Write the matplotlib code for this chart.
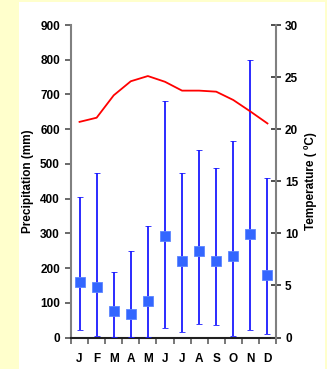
import matplotlib
matplotlib.use("Agg")
import matplotlib.pyplot as plt
from matplotlib.patches import Rectangle
import numpy as np

months = ["J", "F", "M", "A", "M", "J", "J", "A", "S", "O", "N", "D"]
precip = [159, 146, 77, 69, 105, 291, 219, 250, 221, 236, 298, 180]
precip_low = [22, 5, 1, 1, 1, 26, 15, 39, 36, 3, 21, 11]
precip_high = [405, 473, 188, 249, 321, 680, 475, 540, 488, 567, 800, 458]
temp = [20.7, 21.1, 23.25, 24.6, 25.1, 24.55, 23.7, 23.7, 23.6, 22.8, 21.7, 20.55]

plt.rcParams['font.family'] = ['Liberation Sans', 'DejaVu Sans']
plt.rcParams['font.weight'] = 'bold'

fig = plt.figure(figsize=(3.27, 3.69), dpi=100)
fig.patch.set_facecolor('#FFFFCC')
fig.patches.append(Rectangle((19/327, 0), (325-19)/327, 1-2/369, transform=fig.transFigure,
                             facecolor='white', edgecolor='none', zorder=-10))

ax = fig.add_axes([71/327, 1-337.5/369, 205/327, 312.5/369])
ax.set_facecolor('none')
x = np.arange(len(months))
p = np.array(precip)
lo = p - np.array(precip_low)
hi = np.array(precip_high) - p
ax.errorbar(x, p, yerr=[lo, hi], fmt='s', color='#3366FF', ecolor='#1a1aff',
            elinewidth=1.3, capsize=2, capthick=1.3, markersize=7,
            markeredgecolor='#5c85ff', markeredgewidth=0.6, zorder=3)
ax.set_xlim(-0.5, 11.5)
ax.set_ylim(0, 900)
ax.set_yticks(range(0, 901, 100))
ax.set_xticks(x)
ax.set_xticklabels(months)
ax.set_xticks(np.arange(-0.5, 12, 1), minor=True)
ax.tick_params(axis='x', which='major', length=0, pad=11, labelsize=8.5)
ax.tick_params(axis='x', which='minor', length=4, width=1.2, color='#606060', direction='out')
ax.tick_params(axis='y', length=4, width=1.2, color='#505050', direction='out', labelsize=8.5, pad=4)
for lab in ax.get_xticklabels() + ax.get_yticklabels():
    lab.set_fontweight('bold')
ax.spines['top'].set_visible(False)
ax.spines['right'].set_visible(False)
ax.spines['left'].set_color('#808080')
ax.spines['left'].set_linewidth(1.5)
ax.spines['bottom'].set_color('#202020')
ax.spines['bottom'].set_linewidth(1.5)
ax.set_ylabel('Precipitation (mm)', fontsize=8.5, fontweight='bold', labelpad=4)

ax2 = ax.twinx()
ax2.plot(x, temp, color='#FF0000', lw=1.3)
ax2.set_ylim(0, 30)
ax2.set_yticks(range(0, 31, 5))
ax2.tick_params(axis='y', length=7, width=1.2, color='#303030', direction='inout', labelsize=8.5, pad=3)
for lab in ax2.get_yticklabels():
    lab.set_fontweight('bold')
for s in ['top', 'left', 'bottom']:
    ax2.spines[s].set_visible(False)
ax2.spines['right'].set_color('#808080')
ax2.spines['right'].set_linewidth(1.5)
ax2.set_ylabel('Temperature ( ºC)', fontsize=8.5, fontweight='bold', labelpad=4)

fig.savefig('out.png', dpi=100, facecolor=fig.get_facecolor())
